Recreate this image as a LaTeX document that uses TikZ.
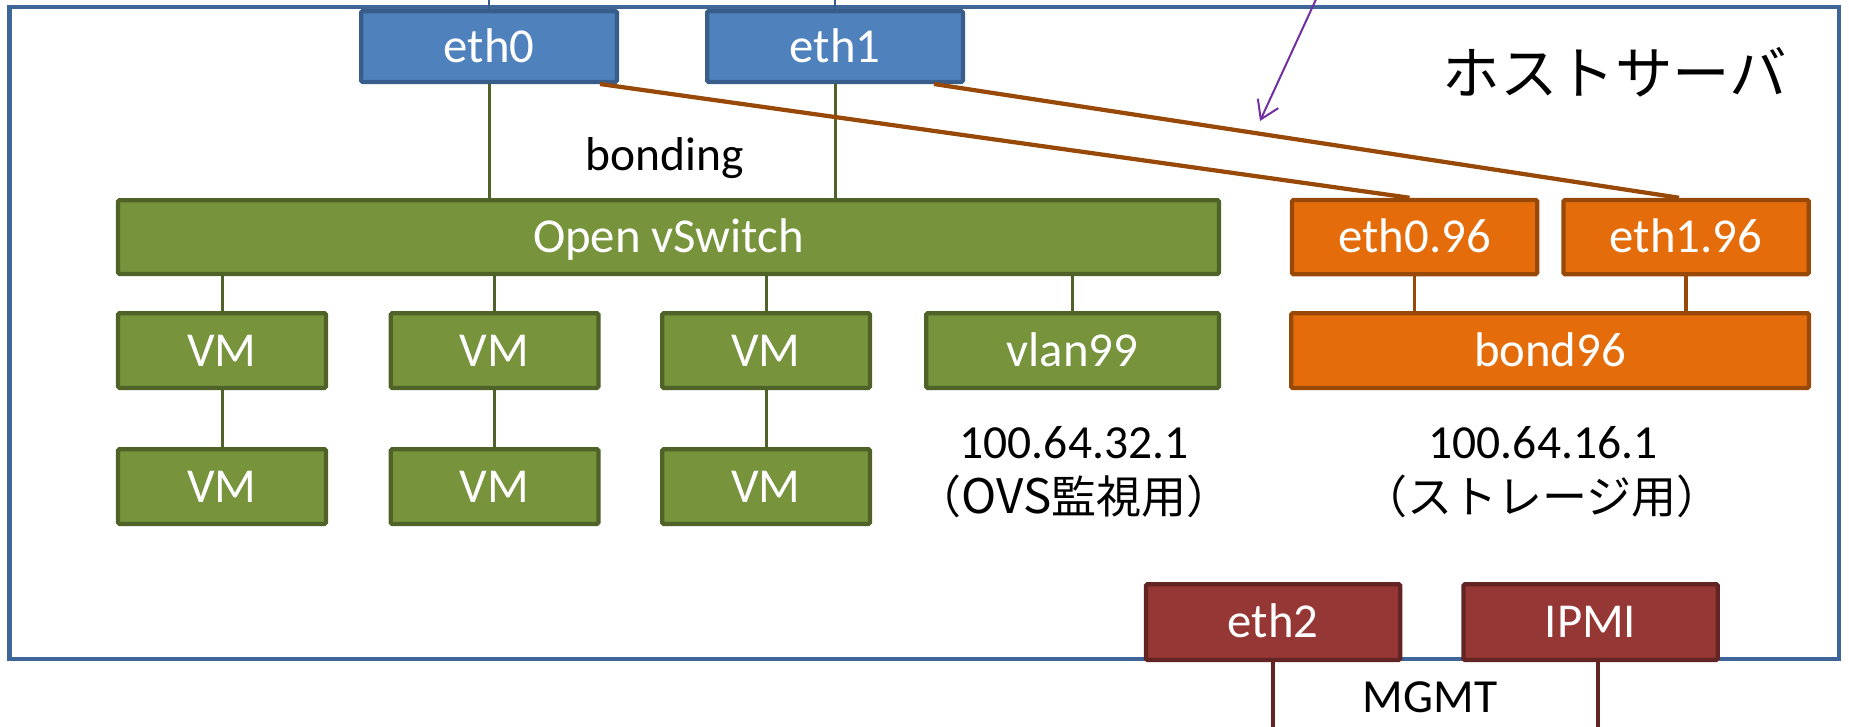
\documentclass[tikz,border=0pt]{standalone}
\usepackage{fontspec}
\setmainfont{Carlito}
\newfontfamily\cjk{Noto Sans CJK JP}
\usetikzlibrary{arrows.meta,calc}
\definecolor{bluefill}{HTML}{4F81BD}
\definecolor{blueline}{HTML}{385D8A}
\definecolor{greenfill}{HTML}{77933C}
\definecolor{greenline}{HTML}{4F6228}
\definecolor{orangefill}{HTML}{E46C0A}
\definecolor{orangeline}{HTML}{984807}
\definecolor{redfill}{HTML}{953735}
\definecolor{redline}{HTML}{632523}
\definecolor{hostline}{HTML}{3E6699}
\definecolor{arrowpurple}{HTML}{7030A0}
\begin{document}
\begin{tikzpicture}[x=0.4pt,y=-0.4pt,
  box/.style={rectangle, draw, line width=1.7pt, text=white, inner sep=0pt,
    font=\fontsize{19.5}{23}\selectfont, text height=12.4pt, text depth=0pt, rounded corners=0.6pt},
  bluebox/.style={box, fill=bluefill, draw=blueline, minimum width=102.3pt, minimum height=28.3pt},
  greenbox/.style={box, fill=greenfill, draw=greenline, minimum height=29.9pt},
  orangebox/.style={box, fill=orangefill, draw=orangeline, minimum height=29.7pt},
  redbox/.style={box, fill=redfill, draw=redline, minimum width=101.7pt, minimum height=30.3pt},
  lbl/.style={inner sep=0pt, font=\fontsize{19}{23}\selectfont, text=black},
  blueconn/.style={draw=blueline, line width=1pt},
  greenconn/.style={draw=greenline, line width=1.2pt},
  orangeconn/.style={draw=orangeline, line width=1.3pt},
  brownconn/.style={draw=orangeline, line width=1.7pt},
  redconn/.style={draw=redline, line width=1.3pt},
]
\path[use as bounding box] (0,0) rectangle (1849,727);
\clip (0,0) rectangle (1849,727);

% host server frame
\draw[hostline, line width=1.7pt] (9.5,7) rectangle (1839,659);
\node[lbl, font=\fontsize{23}{27}\selectfont\cjk] (host) at (1615,72) {ホストサーバ};

% coordinates at the picture edges
\coordinate (top0) at (489,-5);
\coordinate (top1) at (835,-5);
\coordinate (bot2) at (1273,735);
\coordinate (bot3) at (1598,735);
\coordinate (atop) at (1318,-5);
\coordinate (atip) at (1260,121);

% upper NICs
\node[bluebox] (eth0) at (489,46.5) {eth0};
\node[bluebox] (eth1) at (835,46.5) {eth1};

% Open vSwitch and VMs
\node[greenbox, minimum width=440.3pt, minimum height=29.5pt] (ovs) at (668.5,237) {Open vSwitch};
\node[greenbox, minimum width=83.1pt] (vm11) at (222,350.5) {VM};
\node[greenbox, minimum width=83.1pt] (vm12) at (494.5,350.5) {VM};
\node[greenbox, minimum width=83.1pt] (vm13) at (766,350.5) {VM};
\node[greenbox, minimum width=83.1pt] (vm21) at (222,486.5) {VM};
\node[greenbox, minimum width=83.1pt] (vm22) at (494.5,486.5) {VM};
\node[greenbox, minimum width=83.1pt] (vm23) at (766,486.5) {VM};
\node[greenbox, minimum width=117.1pt] (vlan) at (1072.5,350.5) {vlan99};

% storage side
\node[orangebox, minimum width=98.1pt] (eth096) at (1414.5,237) {eth0.96};
\node[orangebox, minimum width=98.1pt] (eth196) at (1686,237) {eth1.96};
\node[orangebox, minimum width=207.1pt, minimum height=29.9pt] (bond) at (1550,350.5) {bond96};

% management NICs
\node[redbox] (eth2) at (1273,622) {eth2};
\node[redbox] (ipmi) at (1590.5,622) {IPMI};

% labels
\node[lbl, anchor=base] (bonding) at (665,170) {bonding};
\node[lbl, anchor=base] (ip1) at (1074,458) {100.64.32.1};
\node[lbl, anchor=base] (ip1b) at (1074,513) {\cjk{\fontsize{18}{22}\selectfont（}OVS\cjk{\fontsize{18}{22}\selectfont 監視用）}};
\node[lbl, anchor=base] (ip2) at (1543,458) {100.64.16.1};
\node[lbl, anchor=base, font=\fontsize{18}{22}\selectfont] (ip2b) at (1542,513) {\cjk{（ストレージ用）}};
\node[lbl, anchor=base] (mgmt) at (1430,712) {MGMT};

% connectors
\draw[blueconn] (eth0.north) -- (top0);
\draw[blueconn] (eth1.north) -- (top1);
\draw[greenconn] (eth0.south) -- (eth0.south |- ovs.north);
\draw[greenconn] (eth1.south) -- (eth1.south |- ovs.north);
\draw[greenconn] (vm11.north |- ovs.south) -- (vm11.north);
\draw[greenconn] (vm12.north |- ovs.south) -- (vm12.north);
\draw[greenconn] (vm13.north |- ovs.south) -- (vm13.north);
\draw[greenconn] (vlan.north |- ovs.south) -- (vlan.north);
\draw[greenconn] (vm11.south) -- (vm21.north);
\draw[greenconn] (vm12.south) -- (vm22.north);
\draw[greenconn] (vm13.south) -- (vm23.north);
\draw[orangeconn] (eth096.south) -- (eth096.south |- bond.north);
\draw[orangeconn] (eth196.south) -- (eth196.south |- bond.north);
\draw[brownconn] ($(eth0.south east)+(-19,0)$) -- ($(eth096.north)+(-5,0)$);
\draw[brownconn] ($(eth1.south east)+(-31,0)$) -- ($(eth196.north)+(-7,0)$);
\draw[redconn] (eth2.south) -- (bot2);
\draw[redconn] ($(ipmi.south)+(7.5,0)$) -- (bot3);
\draw[arrowpurple, line width=0.8pt, -{Straight Barb[length=7pt,width=9pt]}] (atop) -- (atip);
\end{tikzpicture}
\end{document}
